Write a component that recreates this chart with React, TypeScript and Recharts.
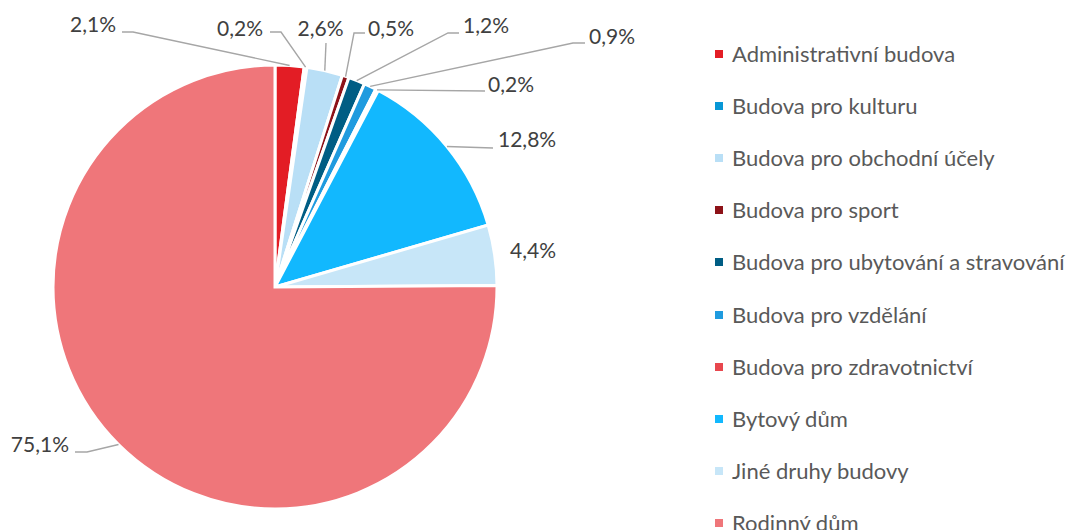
import React from 'react';
import { PieChart, Pie, Cell, Legend } from 'recharts';

const categories = [
  'Administrativní budova',
  'Budova pro kulturu',
  'Budova pro obchodní účely',
  'Budova pro sport',
  'Budova pro ubytování a stravování',
  'Budova pro vzdělání',
  'Budova pro zdravotnictví',
  'Bytový dům',
  'Jiné druhy budovy',
  'Rodinný dům',
];

const shares = [2.1, 0.2, 2.6, 0.5, 1.2, 0.9, 0.2, 12.8, 4.4, 75.1];

const colors = [
  '#E31D25',
  '#0797D6',
  '#B9DFF6',
  '#8D1218',
  '#005D84',
  '#1F9BDF',
  '#E8474E',
  '#12B8FE',
  '#C7E6F8',
  '#EF767A',
];

const data = categories.map((name, i) => ({ name, value: shares[i] }));

// label placement relative to pie centre (layout only)
type LabelLayout = { text: [number, number]; anchor: 'start' | 'middle' | 'end'; line: [number, number][] };
const labelLayout: LabelLayout[] = [
  { text: [-159, -255], anchor: 'end', line: [[-142, -255], [-153, -255]] },
  { text: [-12, -251], anchor: 'end', line: [[6, -255], [-5, -255]] },
  { text: [45.5, -251], anchor: 'middle', line: [[51, -244]] },
  { text: [93, -251], anchor: 'start', line: [[79, -254], [90, -254]] },
  { text: [188, -254], anchor: 'start', line: [[173, -254], [184, -254]] },
  { text: [314, -243], anchor: 'start', line: [[298, -244], [310, -244]] },
  { text: [213, -195], anchor: 'start', line: [[210, -196]] },
  { text: [223, -140], anchor: 'start', line: [[218, -139]] },
  { text: [235, -29], anchor: 'start', line: [] },
  { text: [-206, 165], anchor: 'end', line: [[-188, 165], [-200, 165]] },
];

const FONT = 'Lato, "Open Sans", sans-serif';
const RAD = Math.PI / 180;

const fmt = (v: number) => v.toFixed(1).replace('.', ',') + '%';

const renderLabel = (props: any) => {
  const { cx, cy, midAngle, outerRadius, index, value } = props;
  const lay = labelLayout[index];
  const px = cx + outerRadius * Math.cos(-midAngle * RAD);
  const py = cy + outerRadius * Math.sin(-midAngle * RAD);
  const pts = lay.line.length
    ? [[px, py], ...lay.line.map(([dx, dy]) => [cx + dx, cy + dy])]
    : [];
  return (
    <g key={`lbl-${index}`}>
      {pts.length > 0 && (
        <polyline
          points={pts.map((p) => p.join(',')).join(' ')}
          fill="none"
          stroke="#A6A6A6"
          strokeWidth={1.4}
        />
      )}
      <text
        x={cx + lay.text[0]}
        y={cy + lay.text[1]}
        textAnchor={lay.anchor}
        fill="#404040"
        fontSize={21}
        fontFamily={FONT}
      >
        {fmt(value)}
      </text>
    </g>
  );
};

const renderLegend = (props: any) => {
  const { payload } = props;
  return (
    <div style={{ fontFamily: FONT }}>
      {(payload || []).map((entry: any, i: number) => (
        <div
          key={`leg-${i}`}
          style={{ height: 52.1, display: 'flex', alignItems: 'center' }}
        >
          <span
            style={{
              display: 'inline-block',
              width: 8,
              height: 8,
              background: entry.color,
              marginRight: 9,
              flex: 'none',
            }}
          />
          <span style={{ fontSize: 22, color: '#595959', whiteSpace: 'nowrap', lineHeight: '26px' }}>
            {entry.value}
          </span>
        </div>
      ))}
    </div>
  );
};

export default function App() {
  return (
    <div style={{ position: 'absolute', left: 0, top: 0, width: 1071, height: 530, background: '#fff', overflow: 'hidden' }}>
      <PieChart width={1071} height={530} margin={{ top: 0, right: 0, bottom: 0, left: 0 }}>
        <Pie
          data={data}
          dataKey="value"
          nameKey="name"
          cx={275}
          cy={287}
          outerRadius={222}
          startAngle={90}
          endAngle={-270}
          stroke="#FFFFFF"
          strokeWidth={3}
          label={renderLabel}
          labelLine={false}
          isAnimationActive={false}
        >
          {data.map((d, i) => (
            <Cell key={d.name} fill={colors[i]} />
          ))}
        </Pie>
        <Legend
          layout="vertical"
          align="right"
          verticalAlign="top"
          content={renderLegend}
          wrapperStyle={{ left: 715, top: 28, width: 356, right: 'auto', bottom: 'auto' }}
        />
      </PieChart>
    </div>
  );
}
